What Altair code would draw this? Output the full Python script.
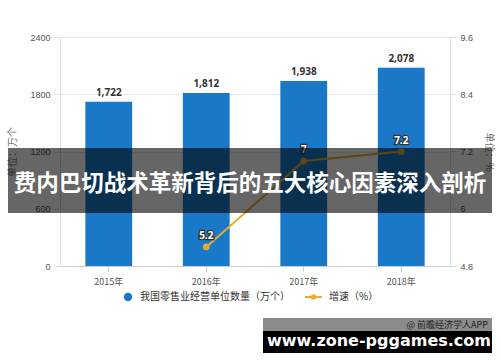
import altair as alt
import pandas as pd

years = ["2015年", "2016年", "2017年", "2018年"]
counts = [1722, 1812, 1938, 2078]
growth = [None, 5.2, 7, 7.2]
left_ticks = [0, 600, 1200, 1800, 2400]
right_ticks = [4.8, 6, 7.2, 8.4, 9.6]
legend_labels = ["我国零售业经营单位数量（万个）", "增速（%）"]
banner_text = "费内巴切战术革新背后的五大核心因素深入剖析"
site_text = "www.zone-pggames.com"
source_text = "@ 前瞻经济学人APP"

FONT = "Noto Sans CJK SC"
BLUE = "#1a78c8"
GOLD = "#e3ad2f"

bar_df = pd.DataFrame({"year": years, "count": counts})
line_df = pd.DataFrame({"year": [y for y, g in zip(years, growth) if g is not None],
                        "growth": [g for g in growth if g is not None]})
one = pd.DataFrame({"k": [0]})

xenc = alt.X("year:N", sort=years, title=None,
             scale=alt.Scale(paddingInner=0.52, paddingOuter=0.26),
             axis=alt.Axis(labelAngle=0, labelColor="#555", labelFontSize=9, labelFont=FONT,
                           domainColor="#ccc", tickColor="#ccc", tickSize=5, labelPadding=6))

lscale = alt.Scale(domain=[0, 2400], nice=False)
laxis = alt.Axis(values=left_ticks, format="d", title="单位：万个", titleFont=FONT,
                 titleFontSize=10, titleFontWeight="normal", titleColor="#777",
                 titlePadding=12, labelColor="#555", labelFontSize=9,
                 gridColor="#e8e8e8", domain=False, tickColor="#ddd", tickSize=6,
                 labelPadding=4, orient="left")
yl = alt.Y("count:Q", scale=lscale, axis=laxis)

bars = alt.Chart(bar_df).mark_bar(color=BLUE).encode(x=xenc, y=yl)
bar_text = alt.Chart(bar_df).mark_text(dy=-9, fontSize=10, fontWeight="bold", color="#333",
                                       font="Noto Sans").encode(
    x=xenc, y=yl, text=alt.Text("count:Q", format=","))
bar_layer = alt.layer(bars, bar_text).resolve_scale(y="shared")

rscale = alt.Scale(domain=[4.8, 9.6], nice=False, zero=False)
raxis = alt.Axis(values=right_ticks, format=".2~g", title="单位：%", titleFont=FONT,
                 titleFontSize=10, titleFontWeight="normal", titleColor="#777",
                 titlePadding=11, labelColor="#555", labelFontSize=9, grid=False,
                 domain=False, tickColor="#ddd", tickSize=6, labelPadding=4,
                 orient="right")
yr = alt.Y("growth:Q", scale=rscale, axis=raxis)
xline = alt.X("year:N", sort=years, bandPosition=0.5, title=None,
              scale=alt.Scale(paddingInner=0.52, paddingOuter=0.26),
              axis=alt.Axis(labelAngle=0, labelColor="#555", labelFontSize=9, labelFont=FONT,
                            domainColor="#ccc", tickColor="#ccc", tickSize=5, labelPadding=6))
line = alt.Chart(line_df).mark_line(color=GOLD, strokeWidth=2).encode(x=xline, y=yr)
pts = alt.Chart(line_df).mark_point(color=GOLD, filled=True, opacity=1, size=45).encode(
    x=xline, y=yr)
lab_stroke = alt.Chart(line_df).mark_text(dy=-11, fontSize=10, fontWeight="bold",
                                          stroke="#333", strokeWidth=2.5, color="#333",
                                          font="Noto Sans").encode(
    x=xline, y=yr, text=alt.Text("growth:Q", format="~g"))
lab_fill = alt.Chart(line_df).mark_text(dy=-11, fontSize=10, fontWeight="bold",
                                        color="white", font="Noto Sans").encode(
    x=xline, y=yr, text=alt.Text("growth:Q", format="~g"))
line_layer = alt.layer(line, pts, lab_stroke, lab_fill).resolve_scale(y="shared")

# legend
leg_dot = alt.Chart(one).mark_point(filled=True, color=BLUE, opacity=1, size=70).encode(
    x=alt.value(68), y=alt.value(260))
leg_t1 = alt.Chart(one).mark_text(align="left", baseline="middle", fontSize=10, color="#333",
                                  font=FONT).encode(
    x=alt.value(80), y=alt.value(260), text=alt.value(legend_labels[0]))
leg_line = alt.Chart(one).mark_rule(color=GOLD, strokeWidth=2).encode(
    x=alt.value(245), x2=alt.value(262), y=alt.value(260))
leg_pt = alt.Chart(one).mark_point(filled=True, color=GOLD, opacity=1, size=30).encode(
    x=alt.value(253.5), y=alt.value(260))
leg_t2 = alt.Chart(one).mark_text(align="left", baseline="middle", fontSize=10, color="#333",
                                  font=FONT).encode(
    x=alt.value(269), y=alt.value(260), text=alt.value(legend_labels[1]))

# overlays
banner = alt.Chart(one).mark_rect(color="black", opacity=0.6).encode(
    x=alt.value(-52), x2=alt.value(432), y=alt.value(111), y2=alt.value(176))
banner_t = alt.Chart(one).mark_text(fontSize=22.5, fontWeight="bold", color="white",
                                    font=FONT, baseline="middle").encode(
    x=alt.value(190), y=alt.value(147), text=alt.value(banner_text))
gray_box = alt.Chart(one).mark_rect(color="#777", opacity=0.85).encode(
    x=alt.value(203), x2=alt.value(432), y=alt.value(281), y2=alt.value(296))
src_t = alt.Chart(one).mark_text(align="right", baseline="middle", fontSize=9,
                                 color="#222", font=FONT).encode(
    x=alt.value(428), y=alt.value(287.5), text=alt.value(source_text))
black_box = alt.Chart(one).mark_rect(color="black").encode(
    x=alt.value(203), x2=alt.value(432), y=alt.value(294), y2=alt.value(316))
site_t = alt.Chart(one).mark_text(fontSize=16, fontWeight="bold", color="white",
                                  font="DejaVu Sans", baseline="middle").encode(
    x=alt.value(319), y=alt.value(304), text=alt.value(site_text))

chart = alt.layer(bar_layer, line_layer, leg_dot, leg_t1, leg_line, leg_pt, leg_t2,
                  banner, banner_t, gray_box, src_t, black_box, site_t).resolve_scale(
    y="independent").properties(
    width=390, height=229, autosize=alt.AutoSizeParams(type="none"),
    padding={"left": 60, "top": 37, "right": 50, "bottom": 96},
).configure_view(stroke=None).configure(background="white")

chart.save("out.html", embed_options={"renderer": "svg", "actions": False})
